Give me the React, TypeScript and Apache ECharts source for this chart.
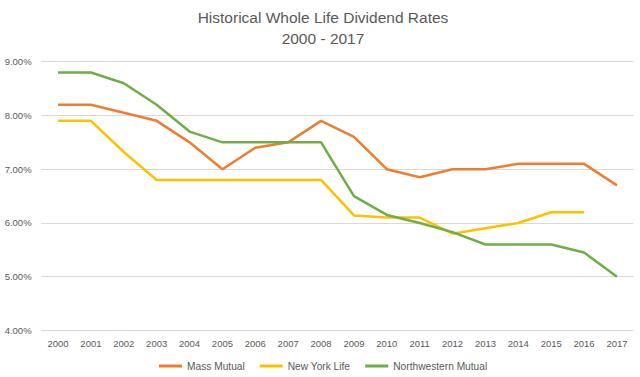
import React, { useEffect, useRef } from "react";
import * as echarts from "echarts";

const years = ["2000","2001","2002","2003","2004","2005","2006","2007","2008","2009","2010","2011","2012","2013","2014","2015","2016","2017"];
const massMutual = [8.2, 8.2, 8.05, 7.9, 7.5, 7.0, 7.4, 7.5, 7.9, 7.6, 7.0, 6.85, 7.0, 7.0, 7.1, 7.1, 7.1, 6.7];
const newYorkLife = [7.9, 7.9, 7.32, 6.8, 6.8, 6.8, 6.8, 6.8, 6.8, 6.14, 6.1, 6.1, 5.8, 5.9, 6.0, 6.2, 6.2, null];
const northwestern = [8.8, 8.8, 8.6, 8.2, 7.7, 7.5, 7.5, 7.5, 7.5, 6.5, 6.15, 6.0, 5.83, 5.6, 5.6, 5.6, 5.45, 5.0];
const titleLines = ["Historical Whole Life Dividend Rates", "2000 - 2017"];

const FONT = "'Liberation Sans', Arial, sans-serif";
const TEXT = "#595959";

export default function App() {
  const ref = useRef<HTMLDivElement>(null);
  useEffect(() => {
    if (!ref.current) return;
    const chart = echarts.init(ref.current, undefined, { renderer: "svg" });
    const mk = (name: string, data: (number | null)[], color: string) => ({
      name,
      type: "line",
      data,
      showSymbol: false,
      symbol: "none",
      lineStyle: { color, width: 2.5 },
      itemStyle: { color },
      connectNulls: false,
    });
    chart.setOption({
      animation: false,
      backgroundColor: "#ffffff",
      graphic: titleLines.map((t, i) => ({
        type: "text",
        x: 323,
        y: 17 + i * 21,
        style: {
          text: t,
          fill: TEXT,
          font: "normal 15.5px " + FONT,
          align: "center",
          verticalAlign: "middle",
          textAlign: "center",
          textVerticalAlign: "middle",
        },
      })),
      grid: { left: 41.6, right: 6.6, top: 61.7, bottom: 46.5 },
      xAxis: {
        type: "category",
        data: years,
        boundaryGap: true,
        axisLine: { show: false },
        axisTick: { show: false },
        axisLabel: { color: TEXT, fontFamily: FONT, fontSize: 9.5, margin: 8 },
      },
      yAxis: {
        type: "value",
        min: 4,
        max: 9,
        interval: 1,
        axisLine: { show: false },
        axisTick: { show: false },
        splitLine: { lineStyle: { color: "#d9d9d9", width: 1 } },
        axisLabel: {
          color: TEXT,
          fontFamily: FONT,
          fontSize: 9.5,
          margin: 10,
          formatter: (v: number) => v.toFixed(2) + "%",
        },
      },
      legend: {
        top: 361,
        left: 159,
        padding: 0,
        icon: "rect",
        itemWidth: 23,
        itemHeight: 3,
        itemGap: 15,
        textStyle: { color: TEXT, fontFamily: FONT, fontSize: 10.2 },
        data: ["Mass Mutual", "New York Life", "Northwestern Mutual"],
      },
      series: [
        mk("Mass Mutual", massMutual, "#ED7D31"),
        mk("New York Life", newYorkLife, "#FFC000"),
        mk("Northwestern Mutual", northwestern, "#70AD47"),
      ],
    });
    return () => chart.dispose();
  }, []);
  return <div ref={ref} style={{ width: 640, height: 377, position: "absolute", left: 0, top: 0 }} />;
}
